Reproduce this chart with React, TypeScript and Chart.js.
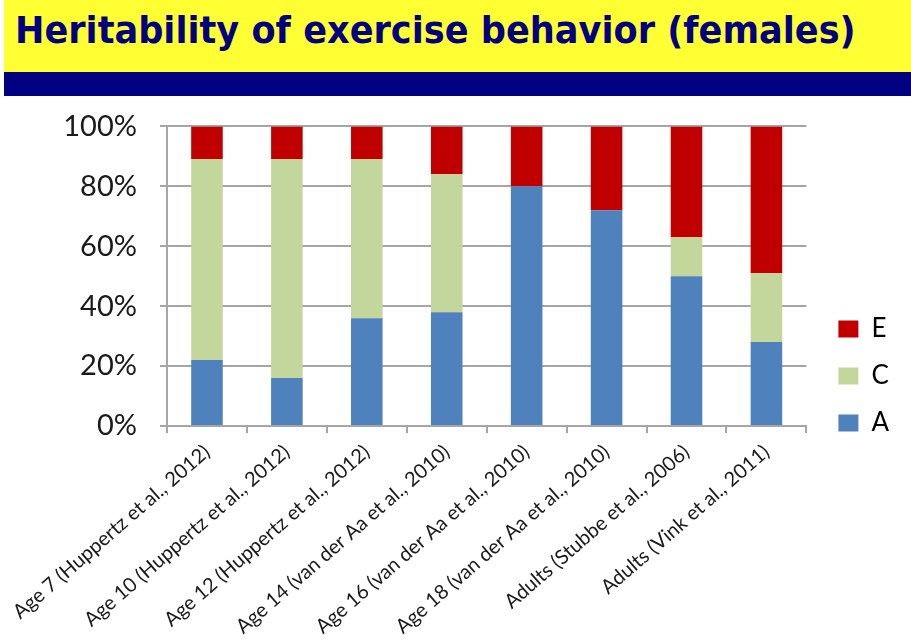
import React, { useEffect, useLayoutEffect, useRef, useState } from "react";
import { Chart, registerables } from "chart.js";

Chart.register(...registerables);

const TITLE = "Heritability of exercise behavior (females)";

const categories = [
  "Age 7 (Huppertz et al., 2012)",
  "Age 10 (Huppertz et al., 2012)",
  "Age 12 (Huppertz et al., 2012)",
  "Age 14 (van der Aa et al., 2010)",
  "Age 16 (van der Aa et al., 2010)",
  "Age 18 (van der Aa et al., 2010)",
  "Adults (Stubbe et al., 2006)",
  "Adults (Vink et al., 2011)",
];

const seriesA = [22, 16, 36, 38, 80, 72, 50, 28];
const seriesC = [67, 73, 53, 46, 0, 0, 13, 23];
const seriesE = [11, 11, 11, 16, 20, 28, 37, 49];

const yMin = 0;
const yMax = 100;
const yStep = 20;

const COLOR_A = "#4F81BD";
const COLOR_C = "#C3D69B";
const COLOR_E = "#C00000";
const GRID = "#A6A6A6";

const legendShift = {
  id: "legendShift",
  afterLayout(chart: any) {
    const lg = chart.legend;
    if (lg) {
      lg.left += 11;
      lg.right += 11;
      lg.top += 31;
      lg.bottom += 31;
    }
  },
};

function Title() {
  const ref = useRef<HTMLSpanElement>(null);
  const [scale, setScale] = useState(1);
  useLayoutEffect(() => {
    if (ref.current) {
      const w = ref.current.offsetWidth;
      if (w > 0) setScale(841 / w);
    }
  }, []);
  return (
    <span
      ref={ref}
      style={{
        position: "absolute",
        left: 15,
        top: 11,
        fontFamily: "'DejaVu Sans', Verdana, sans-serif",
        fontWeight: "bold",
        fontSize: 38,
        lineHeight: "38px",
        color: "#000080",
        whiteSpace: "nowrap",
        transform: `scaleX(${scale})`,
        transformOrigin: "0 0",
      }}
    >
      {TITLE}
    </span>
  );
}

export default function App() {
  const canvasRef = useRef<HTMLCanvasElement>(null);

  useEffect(() => {
    if (!canvasRef.current) return;
    const chart = new Chart(canvasRef.current, {
      type: "bar",
      data: {
        labels: categories,
        datasets: [
          { label: "A", data: seriesA, backgroundColor: COLOR_A, borderWidth: 0 },
          { label: "C", data: seriesC, backgroundColor: COLOR_C, borderWidth: 0 },
          { label: "E", data: seriesE, backgroundColor: COLOR_E, borderWidth: 0 },
        ],
      },
      options: {
        animation: false,
        responsive: false,
        maintainAspectRatio: false,
        layout: { padding: { top: 0, right: 23, left: 0, bottom: 0 } },
        datasets: {
          bar: { barPercentage: 0.395, categoryPercentage: 1 },
        },
        plugins: {
          title: { display: false },
          tooltip: { enabled: false },
          legend: {
            position: "right",
            align: "end",
            fullSize: false,
            reverse: true,
            labels: {
              boxWidth: 20,
              boxHeight: 17,
              padding: 21,
              color: "#000",
              font: { family: "Lato, 'Open Sans', sans-serif", size: 26 },
            },
          },
        },
        scales: {
          x: {
            stacked: true,
            offset: true,
            afterFit(scale: any) {
              scale.height = 217;
              scale.paddingLeft = 0;
              scale.paddingRight = 0;
            },
            grid: {
              display: true,
              drawOnChartArea: false,
              drawTicks: true,
              tickLength: 7,
              color: GRID,
              lineWidth: 2,
              offset: true,
            },
            border: { display: true, color: GRID, width: 2 },
            ticks: {
              autoSkip: false,
              minRotation: 41,
              maxRotation: 41,
              padding: 7,
              color: "#1a1a1a",
              font: { family: "Lato, 'Open Sans', sans-serif", size: 20 },
            },
          },
          y: {
            stacked: true,
            min: yMin,
            max: yMax,
            afterFit(scale: any) {
              scale.width = 167;
            },
            grid: {
              color: GRID,
              lineWidth: 2,
              drawTicks: true,
              tickLength: 7,
            },
            border: { display: true, color: GRID, width: 2 },
            ticks: {
              stepSize: yStep,
              padding: 23,
              color: "#1a1a1a",
              font: { family: "Lato, 'Open Sans', sans-serif", size: 29 },
              callback: (v: any) => `${v}%`,
            },
          },
        },
      },
      plugins: [legendShift],
    });
    return () => chart.destroy();
  }, []);

  return (
    <div
      style={{
        position: "absolute",
        left: 0,
        top: 0,
        width: 911,
        height: 643,
        background: "#fff",
        overflow: "hidden",
      }}
    >
      <canvas
        ref={canvasRef}
        width={911}
        height={557}
        style={{ position: "absolute", left: 0, top: 86, width: 911, height: 557 }}
      />
      <div
        style={{
          position: "absolute",
          left: 4,
          top: 0,
          width: 907,
          height: 72,
          background: "#FFFF33",
        }}
      />
      <div
        style={{
          position: "absolute",
          left: 4,
          top: 72,
          width: 907,
          height: 24,
          background: "#000080",
        }}
      />
      <Title />
    </div>
  );
}
